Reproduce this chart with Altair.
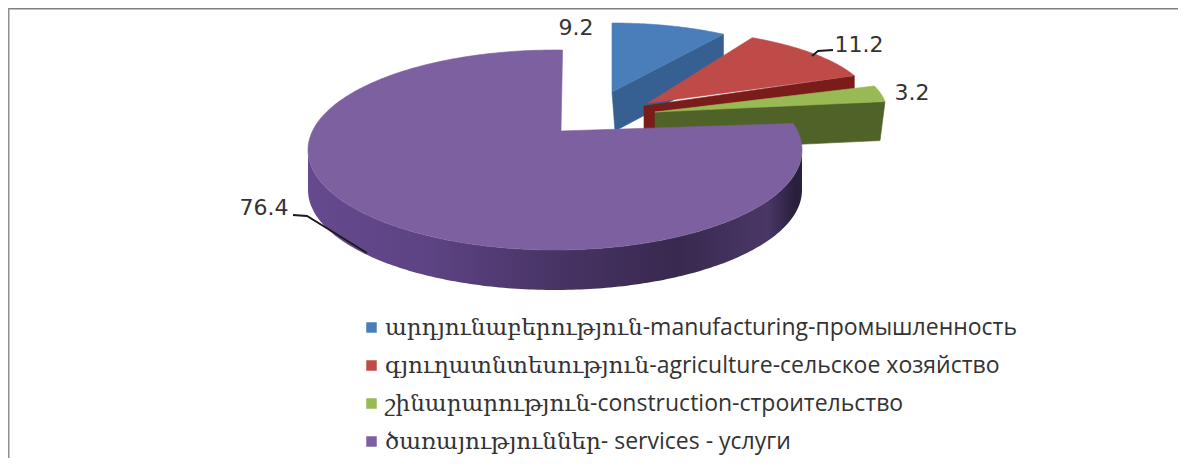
import math
import altair as alt
import pandas as pd

categories = [
    "արդյունաբերություն-manufacturing-промышленность",
    "գյուղատնտեսություն-agriculture-сельское хозяйство",
    "շինարարություն-construction-строительство",
    "ծառայություններ- services - услуги",
]
values = [9.2, 11.2, 3.2, 76.4]
value_labels = ["9.2", "11.2", "3.2", "76.4"]
top_colors = ["#4a7ebb", "#be4b48", "#98b954", "#7d60a0"]
side_colors = ["#376092", "#7a1c1a", "#4f6228", "#5a4280"]

X = alt.X("x:Q", axis=None, scale=alt.Scale(domain=[8, 1178], nice=False, zero=False))
Y = alt.Y("y:Q", axis=None, scale=alt.Scale(domain=[458, 8], nice=False, zero=False))


def sector(span_start, span, ax, ay, a, b, cx=None, cy=None, rx=None, ry=None):
    """Outline of a wedge: apex plus rim, angles clockwise from 12 o'clock."""
    cx = ax if cx is None else cx
    cy = ay if cy is None else cy
    rx = a if rx is None else rx
    ry = b if ry is None else ry
    n = max(6, int(span))
    pts = [(ax, ay)]
    for i in range(n + 1):
        th = math.radians(span_start + span * i / n)
        dx, dy = a * math.sin(th), -b * math.cos(th)
        p, q = (ax - cx) / rx, (ay - cy) / ry
        u, v = dx / rx, dy / ry
        A, B, C = u * u + v * v, 2 * (p * u + q * v), p * p + q * q - 1
        s = (-B + math.sqrt(B * B - 4 * A * C)) / (2 * A)
        pts.append((ax + s * dx, ay + s * dy))
    return pts


def poly(points, fill, stroke=None):
    closed = list(points) + [points[0]]
    df = pd.DataFrame({"x": [p[0] for p in closed], "y": [p[1] for p in closed],
                       "i": list(range(len(closed)))})
    return alt.Chart(df).mark_line(fill=fill, stroke=stroke or fill, strokeWidth=0.6, interpolate="linear").encode(
        x=X, y=Y, order="i:Q")


def path(points, width=1.8, color="#1a1a1a"):
    df = pd.DataFrame({"x": [p[0] for p in points], "y": [p[1] for p in points],
                       "i": list(range(len(points)))})
    return alt.Chart(df).mark_line(color=color, strokeWidth=width).encode(x=X, y=Y, order="i:Q")


def label(text, x, y, size=22):
    df = pd.DataFrame({"x": [x], "y": [y], "t": [text]})
    return alt.Chart(df).mark_text(font="DejaVu Sans", fontSize=size, color="#333333",
                                   align="center", baseline="middle").encode(x=X, y=Y, text="t:N")


spans = [v * 3.6 for v in values]
DEPTH = 39

# blue
blue = sector(0, spans[0], 612, 92, 204, 69)
blue_side = [blue[0], blue[-1], (blue[-1][0], blue[-1][1] + DEPTH), (615, 92 + DEPTH)]
# red
red = sector(28, spans[1], 648, 103, 222, 74)
red_side = [(644, 106), red[-1], (red[-1][0], red[-1][1] + DEPTH), (644, 106 + DEPTH - 12)]
# green
green = sector(71, spans[2], 655, 112, 232, 80)
green_side = [green[0], green[-1], (green[-1][0] - 5, green[-1][1] + DEPTH), (655, 112 + DEPTH)]
# purple
pcx, pcy, prx, pry = 555, 150, 247, 100
purple = sector(85.4, spans[3], 561, 131, prx, pry, pcx, pcy, prx, pry)

rim = []
for i in range(0, 181):
    t = math.radians(i)
    rim.append((pcx + prx * math.cos(t), pcy + pry * math.sin(t)))
rim_df = pd.DataFrame({"x": [p[0] for p in rim], "y": [p[1] for p in rim],
                       "y2": [p[1] + 40 for p in rim]})
purple_side = alt.Chart(rim_df).mark_area(
    color=alt.Gradient(gradient="linear", x1=0, x2=1, y1=0, y2=0, stops=[
        alt.GradientStop(offset=0.0, color="#66498f"),
        alt.GradientStop(offset=0.25, color="#5c4383"),
        alt.GradientStop(offset=0.5, color="#483465"),
        alt.GradientStop(offset=0.75, color="#38294f"),
        alt.GradientStop(offset=0.93, color="#4a3767"),
        alt.GradientStop(offset=0.985, color="#2a1f3c"),
        alt.GradientStop(offset=1.0, color="#2a1f3c"),
    ])).encode(x=X, y=Y, y2="y2:Q")

legend_df = pd.DataFrame({"cat": categories, "x": [600] * 4, "y": [300] * 4})
legend_layer = alt.Chart(legend_df).mark_square(size=0).encode(
    x=X, y=Y,
    color=alt.Color("cat:N", sort=categories,
                    scale=alt.Scale(domain=categories, range=top_colors),
                    legend=alt.Legend(title=None, orient="none", legendX=352, legendY=308,
                                      symbolType="square", symbolSize=110, symbolOpacity=1,
                                      labelFont="Open Sans, DejaVu Serif", labelFontSize=23,
                                      labelColor="#333333", labelLimit=800, rowPadding=14,
                                      symbolStrokeWidth=0, labelOffset=2)),
)

border_top = path([(8, 8.5), (1178, 8.5)], 2, "#808080")
border_left = path([(8.5, 8), (8.5, 458)], 2, "#909090")

chart = alt.layer(
    border_top, border_left,
    poly(blue_side, side_colors[0]), poly(blue, top_colors[0]),
    poly(red_side, side_colors[1]), poly(red, top_colors[1]),
    poly(green_side, side_colors[2]), poly(green, top_colors[2]),
    purple_side, poly(purple, top_colors[3]),
    path([(812, 56), (818, 51), (833, 50)]),
    path([(293, 215), (307, 216), (367, 253)]),
    label(value_labels[0], 576, 28), label(value_labels[1], 859, 45),
    label(value_labels[2], 912, 93), label(value_labels[3], 264, 208),
    legend_layer,
).properties(width=1170, height=450, padding=0, autosize=alt.AutoSizeParams(type="none")
).configure_view(stroke=None)

chart.save("out.html", embed_options={"renderer": "svg", "actions": False})
